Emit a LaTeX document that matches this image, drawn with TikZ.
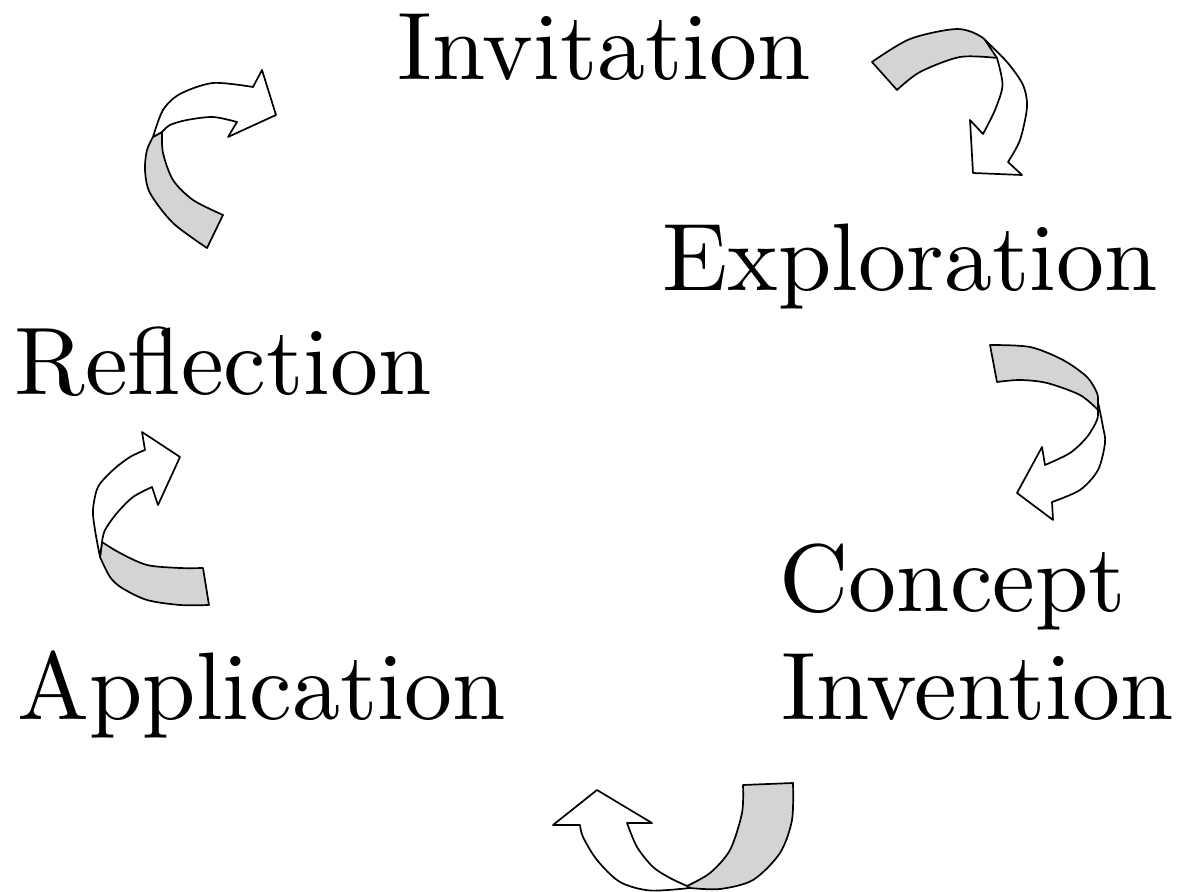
\documentclass[tikz,border=0pt]{standalone}
\usepackage{fontspec}
\newfontfamily\stagefont{lmroman10-regular.otf}
\usetikzlibrary{calc}

\begin{document}
\begin{tikzpicture}[x=0.5pt, y=-0.5pt,
  stage/.style={font=\stagefont\fontsize{48}{53.5}\selectfont, inner sep=0pt, anchor=base west},
  front/.style={draw=black, line width=0.85pt, line join=round, fill=white},
  back/.style={draw=black, line width=0.85pt, line join=round, fill=black!17}]
\useasboundingbox (0,0) rectangle (1200,892);
\foreach \nm/\txt/\x/\y in {inv/Invitation/397/80, expl/Exploration/662/291, refl/Reflection/14/395,
  conc/Concept/779/612, invt/Invention/781/719, appl/Application/17/719}
 \node[stage] (\nm) at (\x,\y) {\txt};
% Invitation -> Exploration
\filldraw[back] plot[smooth] coordinates {(872,62) (910,39) (957,29) (983,38) (997,57)}
  -- plot[smooth] coordinates {(997,58) (960,57) (920,72) (897,90)} -- cycle;
\filldraw[front] plot[smooth] coordinates {(985,40) (1007,62) (1023,85) (1027,107) (1020,140) (1008,162)}
  -- (1022,175) -- (973,173) -- (970,120) -- (983,134)
  -- plot[smooth] coordinates {(983,134) (995,110) (1002.5,85) (997,58)} -- cycle;
% Exploration -> Concept Invention
\filldraw[back] plot[smooth] coordinates {(990,345) (1030,347) (1063,360) (1087,377) (1097,393) (1098,402)}
  -- plot[smooth] coordinates {(1098,410) (1080,395) (1047,383) (1020,380) (997,382)} -- cycle;
\filldraw[front] plot[smooth] coordinates {(1098,402) (1103,427) (1105,443) (1098,470) (1080,490) (1052,502)}
  -- (1053,520) -- (1017,493) -- (1042,447) -- (1045,465)
  -- plot[smooth] coordinates {(1045,465) (1070,453) (1087,437) (1097,420) (1098,410)} -- cycle;
% Concept Invention -> Application
\filldraw[back] plot[smooth] coordinates {(793,783) (792,820) (780,853) (753,880) (720,889) (690,888)}
  -- (687,886) -- plot[smooth] coordinates {(687,886) (710,873) (730,850) (742,813) (743,785)} -- cycle;
\filldraw[front] plot[smooth] coordinates {(690,888) (650,890.5) (620,882) (597,860) (583,837) (580,825)}
  -- (553,825) -- (597,790) -- (652,823) -- (627,823)
  -- plot[smooth] coordinates {(627,823) (637,847) (653,867) (670,878) (687,886)} -- cycle;
% Application -> Reflection
\filldraw[back] plot[smooth] coordinates {(209,605) (180,605) (147,600) (122,588) (110,577) (100,557)}
  -- plot[smooth] coordinates {(102,542) (120,553) (147,565) (180,568) (203,568)} -- cycle;
\filldraw[front] plot[smooth] coordinates {(100,557) (95,530) (93,510) (98,487) (113,470) (130,457) (145,450)}
  -- (142,432) -- (180,457) -- (158,505) -- (152,487)
  -- plot[smooth] coordinates {(152,487) (133,497) (117,513) (105,530) (102,542)} -- cycle;
% Reflection -> Invitation
\filldraw[back] plot[smooth] coordinates {(207,248) (173,223) (150,193) (145,170) (147,150) (153,137)}
  -- plot[smooth] coordinates {(162,132) (163,153) (173,180) (193,200) (223,215)} -- cycle;
\filldraw[front] plot[smooth] coordinates {(153,137) (163,110) (180,94) (213,83) (253,87)}
  -- (262,70) -- (276,115) -- (228,137) -- (237,122)
  -- plot[smooth] coordinates {(237,122) (213,117) (187,120) (170,125) (162,132)} -- cycle;
\end{tikzpicture}
\end{document}
